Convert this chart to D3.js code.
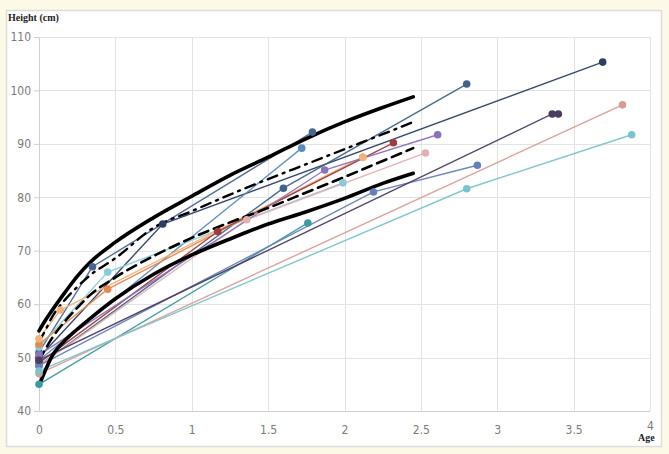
<!DOCTYPE html>
<html><head><meta charset="utf-8">
<script src="https://cdn.jsdelivr.net/npm/d3@7"></script>
<style>
html,body{margin:0;padding:0;background:#fdf9e7;}
svg{display:block;}
</style></head>
<body>
<svg id="chart" width="669" height="454"></svg>
<script>
// ---- data ----
const xTicks = [0, 0.5, 1, 1.5, 2, 2.5, 3, 3.5, 4];
const yTicks = [40, 50, 60, 70, 80, 90, 100, 110];

const refAges   = [0, 0.04, 0.08, 0.17, 0.25, 0.33, 0.5, 0.75, 1, 1.25, 1.5, 1.75, 2, 2.25, 2.45];
const refUpper  = [55, 56.9, 58.6, 62.2, 65.2, 67.7, 71.6, 76.2, 80.2, 84.1, 87.5, 91.0, 94.1, 96.8, 98.8];
const refDashDot= [53, 55, 57.3, 60.8, 63.2, 65.3, 68.6, 74.3, 77.4, 80.5, 83.4, 86.2, 89.0, 91.8, 94.1];
const refMedian = [49.5, 51.5, 53.4, 56.8, 59.3, 61.6, 65, 69, 72.4, 75.3, 78, 80.9, 83.8, 86.8, 89.2];
const refLower  = [44.8, 47.5, 50, 53.2, 55.3, 57.2, 61.0, 65.6, 69.2, 72.2, 75.0, 77.3, 79.8, 82.6, 84.5];

const childAges = [
  [0, 0.81, 3.69],
  [0, 1.60, 2.80],
  [0, 0.35, 1.79],
  [0, 1.72],
  [0, 0.45, 1.99],
  [0, 0.45, 2.12],
  [0, 0.14, 2.12],
  [0, 1.17, 2.32],
  [0, 1.36, 2.53],
  [0, 1.87, 2.61],
  [0, 1.76],
  [0, 2.19, 2.87],
  [0, 3.36, 3.40],
  [0, 3.82],
  [0, 2.80, 3.88]
];
const childHeights = [
  [50, 75.0, 105.3],
  [48.5, 81.7, 101.2],
  [51, 67.0, 92.2],
  [49.5, 89.2],
  [52, 66.0, 82.7],
  [52.5, 62.8, 87.5],
  [53.5, 58.9, 87.5],
  [49, 73.6, 90.2],
  [48.5, 75.8, 88.3],
  [50.5, 85.1, 91.7],
  [45, 75.2],
  [48.5, 81.0, 86.0],
  [49.5, 95.6, 95.6],
  [47, 97.3],
  [47.5, 81.6, 91.7]
];
const childColors = ["#2c3e63","#3f6488","#4a6690","#5b8cc0","#8ccbd6","#e08a4c","#f2b27c",
  "#9e3b3b","#e3b0b0","#8a72b8","#3d9aa3","#6680b8","#4a3b63","#d89c98","#7cc3cc"];

// ---- chart ----
const svg = d3.select("#chart");
const x = d3.scaleLinear().domain([0, 4]).range([39, 650]);
const y = d3.scaleLinear().domain([40, 110]).range([411, 37]);

svg.append("rect").attr("x", 6.5).attr("y", 10.5).attr("width", 655).attr("height", 436)
  .attr("fill", "#ffffff").attr("stroke", "#dcdcdc").attr("stroke-width", 1.5);

// grid
svg.append("g").selectAll("line").data(xTicks.slice(1)).join("line")
  .attr("x1", d => Math.round(x(d)) + 0.5).attr("x2", d => Math.round(x(d)) + 0.5)
  .attr("y1", y(110)).attr("y2", y(40)).attr("stroke", "#e3e3e3");
svg.append("g").selectAll("line").data(yTicks.slice(1)).join("line")
  .attr("x1", x(0)).attr("x2", x(4))
  .attr("y1", d => Math.round(y(d)) + 0.5).attr("y2", d => Math.round(y(d)) + 0.5)
  .attr("stroke", "#e3e3e3");

// axes
const xAxis = d3.axisBottom(x).tickValues(xTicks).tickSize(0).tickPadding(14)
  .tickFormat(d3.format("~g"));
const gx = svg.append("g").attr("transform", `translate(0,${y(40)})`).call(xAxis);
gx.select(".domain").attr("stroke", "#cfcfcf");
gx.selectAll("text").attr("fill", "#7a7a7a").style("font-family", "'Liberation Sans Narrow','DejaVu Sans Condensed',sans-serif").style("font-size", "12px");
gx.selectAll(".tick").filter(d => d === 4).select("text").attr("dy", "0.4em");

const yAxis = d3.axisLeft(y).tickValues(yTicks).tickSize(5).tickPadding(3);
const gy = svg.append("g").attr("transform", `translate(${x(0)},0)`).call(yAxis);
gy.select(".domain").attr("stroke", "#cfcfcf");
gy.selectAll(".tick line").attr("stroke", "#cfcfcf");
gy.selectAll("text").attr("fill", "#7a7a7a").style("font-family", "'Liberation Sans Narrow','DejaVu Sans Condensed',sans-serif").style("font-size", "12px");

svg.append("text").attr("x", 8).attr("y", 21).text("Height (cm)")
  .style("font-family", "'Liberation Serif','DejaVu Serif',serif").style("font-weight", "bold")
  .style("font-size", "10px").attr("fill", "#222");
svg.append("text").attr("x", 638).attr("y", 441).text("Age")
  .style("font-family", "'Liberation Serif','DejaVu Serif',serif").style("font-weight", "bold")
  .style("font-size", "10px").attr("fill", "#222");

// child series lines
const lineLin = d3.line().x(d => x(d[0])).y(d => y(d[1]));
const children = childAges.map((a, i) => ({color: childColors[i], pts: a.map((v, j) => [v, childHeights[i][j]])}));
svg.append("g").selectAll("path").data(children).join("path")
  .attr("d", d => lineLin(d.pts)).attr("fill", "none")
  .attr("stroke", d => d.color).attr("stroke-width", 1.4).attr("opacity", 0.95);

// reference curves
const lineSmooth = d3.line().x(d => x(d[0])).y(d => y(d[1])).curve(d3.curveMonotoneX);
const refs = [
  {v: refLower, w: 3.6, dash: null},
  {v: refUpper, w: 3.6, dash: null},
  {v: refMedian, w: 2.6, dash: "10,6"},
  {v: refDashDot, w: 2.4, dash: "10,6,2,6"}
];
svg.append("g").selectAll("path").data(refs).join("path")
  .attr("d", d => lineSmooth(refAges.map((a, i) => [a, d.v[i]])))
  .attr("fill", "none").attr("stroke", "#000").attr("stroke-width", d => d.w)
  .attr("stroke-dasharray", d => d.dash).attr("stroke-linecap", "round");

// markers
const pts = children.flatMap(c => c.pts.map(p => ({p, color: c.color})));
svg.append("g").selectAll("circle").data(pts).join("circle")
  .attr("cx", d => x(d.p[0])).attr("cy", d => y(d.p[1])).attr("r", 3.8)
  .attr("fill", d => d.color);
</script>
</body></html>
